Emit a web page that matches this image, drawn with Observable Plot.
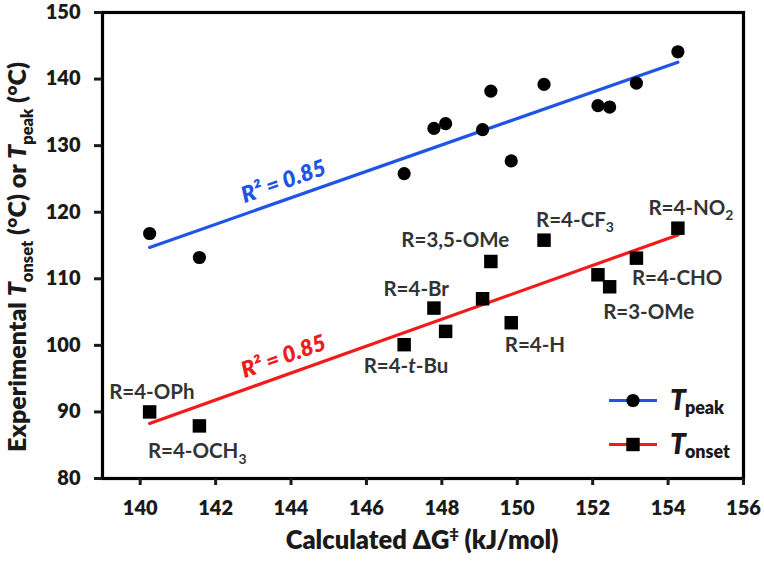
<!DOCTYPE html>
<html>
<head>
<meta charset="utf-8">
<script src="https://cdn.jsdelivr.net/npm/d3@7"></script>
<script src="https://cdn.jsdelivr.net/npm/@observablehq/plot@0.6"></script>
<style>
  html, body { margin: 0; padding: 0; background: #fff; }
  #chart svg { display: block; }
</style>
</head>
<body>
<div id="chart"></div>
<script>
// ---------- data ----------
const dG = [140.25, 141.57, 147.00, 147.79, 148.10, 149.08, 149.30, 149.84, 150.71, 152.14, 152.45, 153.16, 154.26];
const tPeak = [116.8, 113.2, 125.8, 132.6, 133.3, 132.4, 138.2, 127.7, 139.2, 136.0, 135.8, 139.4, 144.1];
const tOnset = [90.0, 87.9, 100.1, 105.6, 102.1, 107.0, 112.6, 103.4, 115.8, 110.6, 108.8, 113.1, 117.6];
const compoundLabels = ["R=4-OPh", "R=4-OCH_{3}", "R=4-*t*-Bu", "R=4-Br", "", "", "R=3,5-OMe", "R=4-H", "R=4-CF_{3}", "", "R=3-OMe", "R=4-CHO", "R=4-NO_{2}"];
const xTicks = [140, 142, 144, 146, 148, 150, 152, 154, 156];
const yTicks = [80, 90, 100, 110, 120, 130, 140, 150];
const seriesNames = ["*T*_{peak}", "*T*_{onset}"];
const r2Text = ["R² = 0.85", "R² = 0.85"];
const r2Anchor = [[143.81, 124.6], [143.81, 98.3]];
const xTitle = "Calculated ΔG^{‡} (kJ/mol)";
const yTitle = "Experimental *T*_{onset} (°C) or *T*_{peak} (°C)";

// ---------- layout / style ----------
const blue = "#1f55e6", red = "#f21a1a";
const font = "Lato, 'Open Sans', sans-serif";
const W = 800; // text weight
const labelOffsets = { // pixel offsets of label start/baseline relative to its square
  "R=4-OPh": [-40, -12], "R=4-OCH_{3}": [-51, 33], "R=4-*t*-Bu": [-40, 29],
  "R=4-Br": [-50, -12], "R=3,5-OMe": [-89, -14], "R=4-H": [-6, 30],
  "R=4-CF_{3}": [-7.5, -13], "R=3-OMe": [-6, 33], "R=4-CHO": [-4, 27], "R=4-NO_{2}": [-29, -13]
};
const legendLayout = { rows: [400.5, 444.5], x1: 609, x2: 657, xm: 633, xt: 670 };

const peakData = dG.map((x, i) => ({ x, y: tPeak[i] }));
const onsetData = dG.map((x, i) => ({ x, y: tOnset[i], label: compoundLabels[i] }));

const plot = Plot.plot({
  width: 764, height: 565,
  marginLeft: 102, marginRight: 21, marginTop: 12, marginBottom: 87,
  style: { fontFamily: font, fontSize: "20px", fontWeight: W, color: "#1a1a1a", background: "#fff", overflow: "visible" },
  x: { domain: [139, 156], label: null },
  y: { domain: [80, 150], label: null },
  marks: [
    Plot.linearRegressionY(peakData, { x: "x", y: "y", stroke: blue, strokeWidth: 3.2, ci: 0 }),
    Plot.linearRegressionY(onsetData, { x: "x", y: "y", stroke: red, strokeWidth: 3.2, ci: 0 }),
    Plot.dot(peakData, { x: "x", y: "y", r: 6.6, fill: "#000", stroke: null }),
    Plot.dot(onsetData, { x: "x", y: "y", r: 7.6, symbol: "square", fill: "#000", stroke: null }),
    Plot.frame({ stroke: "#000", strokeWidth: 3.2 }),
    Plot.axisX({ ticks: xTicks, tickSize: 7, tickPadding: 15, strokeWidth: 3, label: null }),
    Plot.axisY({ ticks: yTicks, tickSize: 8, tickPadding: 14, strokeWidth: 3, label: null })
  ]
});
document.getElementById("chart").appendChild(plot);

const X = plot.scale("x"), Y = plot.scale("y");
const svg = d3.select(plot);
const g = svg.append("g").attr("font-family", font);

function richText(parent, str, o) {
  const size = o.size;
  const t = parent.append("text")
    .attr("x", o.x || 0).attr("y", o.y || 0)
    .attr("text-anchor", o.anchor || "start")
    .attr("font-size", size).attr("font-weight", o.weight || W)
    .attr("fill", o.fill || "#1a1a1a");
  if (o.transform) t.attr("transform", o.transform);
  if (o.italic) t.attr("font-style", "italic");
  const subScale = o.subScale || 0.68, subShift = o.subShift || 0.28;
  const re = /\*([^*]+)\*|_\{([^}]+)\}|\^\{([^}]+)\}|([^*_^]+)/g;
  let m, shifted = 0;
  while ((m = re.exec(str))) {
    const s = t.append("tspan");
    if (m[2] || m[3]) {
      const d = m[2] ? size * subShift : -size * (o.supShift || 0.38);
      s.text(m[2] || m[3]).attr("font-size", size * subScale).attr("dy", d - shifted);
      if (m[2] && o.subDx) s.attr("dx", o.subDx);
      shifted = d;
    } else {
      s.text(m[1] || m[4]);
      if (m[1]) s.attr("font-style", "italic");
      if (shifted) { s.attr("dy", -shifted); shifted = 0; }
    }
  }
  return t;
}

// compound labels
onsetData.forEach(d => {
  if (!d.label) return;
  const [dx, dy] = labelOffsets[d.label];
  richText(g, d.label, { x: X.apply(d.x) + dx, y: Y.apply(d.y) + dy, size: 20.5, fill: "#333", weight: 700 });
});

// R² annotations along the trend lines
[blue, red].forEach((c, i) => {
  const cx = X.apply(r2Anchor[i][0]), cy = Y.apply(r2Anchor[i][1]);
  g.append("text")
    .attr("transform", `translate(${cx},${cy}) rotate(-19.5)`)
    .attr("text-anchor", "middle").attr("dy", "0.35em")
    .attr("font-size", 22.5).attr("font-weight", W).attr("font-style", "italic")
    .attr("fill", c).text(r2Text[i]);
});

// legend
[blue, red].forEach((c, i) => {
  const y = legendLayout.rows[i];
  g.append("line").attr("x1", legendLayout.x1).attr("x2", legendLayout.x2)
    .attr("y1", y).attr("y2", y).attr("stroke", c).attr("stroke-width", 3.2);
  if (i === 0) g.append("circle").attr("cx", legendLayout.xm).attr("cy", y).attr("r", 6.6).attr("fill", "#000");
  else g.append("rect").attr("x", legendLayout.xm - 6.7).attr("y", y - 6.7).attr("width", 13.4).attr("height", 13.4).attr("fill", "#000");
  richText(g, seriesNames[i], { x: legendLayout.xt, y: y + 9, size: 28, subScale: 0.64, subShift: 0.16, subDx: -1, fill: "#1a1a1a" });
});

// axis titles
richText(g, xTitle, { x: 422, y: 549, size: 25.5, anchor: "middle", subScale: 0.62, supShift: 0.4 });
richText(g, yTitle, { transform: "translate(26,452) rotate(-90)", size: 25, anchor: "start", subScale: 0.66, subShift: 0.28 });
</script>
</body>
</html>
